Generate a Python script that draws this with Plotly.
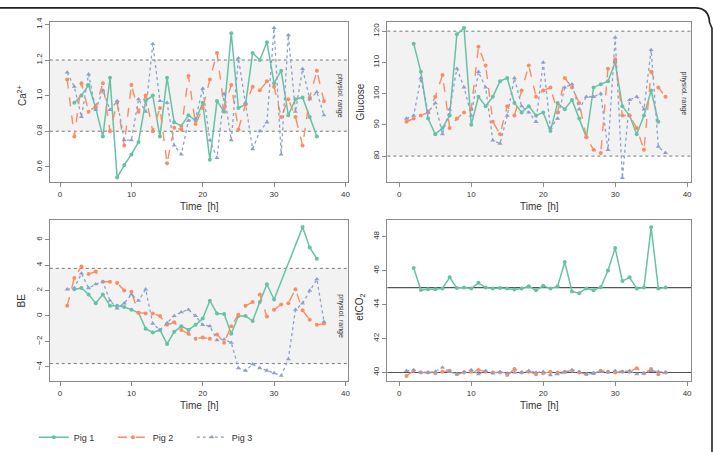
import plotly.graph_objects as go

# ---------------- data ----------------
t_all = list(range(1, 38))
t_ca_pig1 = list(range(2, 37))
t_glu_pig1 = list(range(2, 37))
t_be_pig1 = list(range(2, 31)) + [34, 35, 36]
t_co2_pig1 = list(range(2, 38))

ca_pig1 = [0.96, 1.0, 1.06, 0.93, 0.77, 1.1, 0.54, 0.61, 0.67, 0.74,
           0.97, 1.0, 0.77, 1.1, 0.85, 0.83, 0.89, 0.86, 0.96, 0.64,
           0.97, 0.91, 1.35, 0.93, 0.95, 1.24, 1.2, 1.3, 1.07, 1.14,
           0.89, 0.98, 0.99, 0.88, 0.77]
ca_pig2 = [1.09, 0.77, 1.07, 0.91, 0.94, 1.07, 0.8, 0.96, 0.72, 1.06,
           0.91, 1.0, 0.8, 0.93, 0.62, 0.82, 0.81, 1.11, 0.84, 0.93,
           1.09, 1.24, 0.93, 1.06, 0.81, 0.95, 1.05, 1.03, 1.08, 1.05,
           0.88, 0.98, 0.88, 0.72, 0.99, 1.14, 0.97]
ca_pig3 = [1.13, 1.05, 0.88, 1.12, 0.92, 1.03, 0.92, 0.97, 0.75, 0.75,
           0.98, 0.91, 1.29, 0.97, 0.96, 0.72, 0.67, 0.86, 0.87, 1.04,
           0.75, 0.65, 1.01, 0.75, 1.21, 0.96, 0.7, 0.8, 0.85, 1.38,
           0.67, 1.34, 0.91, 1.15, 0.98, 1.02, 0.89]

glu_pig1 = [116, 107, 92, 87, 89, 93, 119, 121, 90, 99,
            96, 99, 104, 105, 97, 94, 96, 93, 94, 88,
            97, 95, 98, 92, 86, 102, 103, 104, 110, 96,
            93, 87, 93, 101, 91]
glu_pig2 = [91, 92, 93, 94, 99, 106, 89, 92, 94, 95,
            115, 109, 91, 87, 96, 93, 101, 109, 99, 101,
            102, 94, 105, 102, 97, 86, 82, 81, 108, 111,
            93, 93, 89, 82, 107, 102, 99]
glu_pig3 = [92, 93, 105, 94, 97, 87, 95, 108, 102, 93,
            107, 102, 85, 84, 93, 105, 96, 94, 91, 110,
            89, 92, 102, 103, 95, 99, 99, 100, 82, 118,
            73, 98, 99, 95, 114, 83, 81]

be_pig1 = [2.1, 2.2, 1.7, 1.0, 1.7, 0.8, 0.8, 0.7, 0.5, 0.25,
           -1.0, -1.3, -1.1, -2.2, -1.25, -0.8, -1.1, -0.7, -0.2, 1.2,
           0.2, 0.15, -1.4, 0.0, 0.0, -0.4, 1.1, 2.5, 1.3,
           7.0, 5.4, 4.5]
be_pig2 = [0.8, 3.0, 3.9, 3.3, 3.5, 2.7, 2.7, 2.6, 2.0, 1.9,
           0.25, 0.2, 0.2, 0.0, -0.7, -0.5, -1.1, -1.4, -1.8, -1.7,
           -1.8, -1.45, -2.1, -0.8, 0.1, 0.8, 1.1, 1.7, -0.05, 0.5,
           0.9, 1.0, 2.1, 0.45, -0.3, -0.7, -0.6]
be_pig3 = [2.1, 2.2, 3.35, 2.2, 2.5, 2.7, 1.2, 0.6, 1.0, 1.7,
           1.2, 2.1, -0.6, -1.1, -0.55, 0.0, 0.3, 0.5, 0.0, -0.7,
           -0.8, -1.9, -1.85, -2.1, -4.1, -4.3, -3.8, -4.1, -4.3, -4.5,
           -4.7, -3.4, 0.5, 1.0, 2.0, 2.9, -0.45]

co2_pig1 = [46.15, 44.85, 44.9, 44.9, 44.95, 45.6, 44.98, 45.0, 44.94, 45.28,
            45.0, 44.95, 44.98, 44.94, 44.88, 44.95, 45.07, 44.84, 45.1, 44.94,
            45.07, 46.5, 44.77, 44.67, 44.95, 44.84, 45.02, 46.0, 47.33, 45.38,
            45.6, 44.94, 45.0, 48.55, 44.95, 45.0]
co2_pig2 = [39.8, 40.1, 40.0, 40.0, 39.95, 40.05, 40.1, 39.9, 40.0, 40.05,
            40.15, 40.05, 40.0, 40.0, 39.85, 40.2, 40.0, 40.05, 39.9, 39.95,
            40.05, 40.0, 40.05, 40.1, 40.0, 39.9, 39.95, 40.1, 40.05, 40.0,
            40.05, 40.05, 40.25, 39.95, 40.2, 39.9, 40.0]
co2_pig3 = [40.1, 40.15, 40.0, 40.0, 40.05, 40.3, 40.05, 39.9, 40.05, 40.15,
            39.9, 40.1, 39.95, 40.05, 39.95, 40.0, 40.0, 40.1, 40.0, 40.05,
            39.85, 39.9, 40.0, 40.15, 40.05, 39.9, 39.95, 40.05, 40.0, 40.1,
            40.05, 40.1, 39.9, 39.95, 40.1, 40.05, 40.0]

pig_names = ["Pig 1", "Pig 2", "Pig 3"]
x_ticks = [0, 10, 20, 30, 40]
ca_ticks = [0.6, 0.8, 1.0, 1.2, 1.4]
ca_ticklabels = ["0.6", "0.8", "1.0", "1.2", "1.4"]
glu_ticks = [80, 90, 100, 110, 120]
be_ticks = [-4, -2, 0, 2, 4, 6]
co2_ticks = [40, 42, 44, 46, 48]

ca_band = [0.8, 1.2]
glu_band = [80, 120]
be_band = [-3.75, 3.75]
co2_lines = [40, 45]

# ---------------- styling ----------------
W, H = 713, 452
FONT = "Liberation Sans, Arial, sans-serif"
COLORS = ["#66c2a5", "#fc8d62", "#8da0cb"]
DASHES = ["solid", "dash", "dot"]
SYMBOLS = ["circle", "circle", "triangle-up"]
WIDTHS = [1.5, 1.4, 1.3]
MSIZES = [4, 4, 4.5]
AXC = "#8a8a8a"
TXT = "#333333"


def px_x(p):
    return p / W


def px_y(p):
    return 1 - p / H


fig = go.Figure()

panels = [
    ("x", "y", [(t_ca_pig1, ca_pig1), (t_all, ca_pig2), (t_all, ca_pig3)]),
    ("x2", "y2", [(t_glu_pig1, glu_pig1), (t_all, glu_pig2), (t_all, glu_pig3)]),
    ("x3", "y3", [(t_be_pig1, be_pig1), (t_all, be_pig2), (t_all, be_pig3)]),
    ("x4", "y4", [(t_co2_pig1, co2_pig1), (t_all, co2_pig2), (t_all, co2_pig3)]),
]

for pi, (xa, ya, series) in enumerate(panels):
    for k, (tx, vals) in enumerate(series):
        fig.add_trace(go.Scatter(
            x=tx, y=vals, xaxis=xa, yaxis=ya,
            mode="lines+markers", name=pig_names[k],
            legendgroup=pig_names[k], showlegend=(pi == 0),
            line=dict(color=COLORS[k], width=WIDTHS[k], dash=DASHES[k]),
            marker=dict(color=COLORS[k], size=MSIZES[k], symbol=SYMBOLS[k]),
        ))

shapes = []
annotations = []


def add_band(xa, ya, band):
    xr = xa + " domain"
    shapes.append(dict(type="rect", xref=xr, yref=ya, x0=0, x1=1,
                       y0=band[0], y1=band[1], fillcolor="#f2f2f2",
                       line=dict(width=0), layer="below"))
    for b in band:
        shapes.append(dict(type="line", xref=xr, yref=ya, x0=0, x1=1,
                           y0=b, y1=b, line=dict(color="#777777", width=1, dash="dot"),
                           layer="below"))
    annotations.append(dict(xref=xr, yref=ya, x=0.977, y=(band[0] + band[1]) / 2,
                            xanchor="center", yanchor="middle",
                            text="physiol. range", textangle=90, showarrow=False,
                            font=dict(size=7, color=TXT, family=FONT)))


add_band("x", "y", ca_band)
add_band("x2", "y2", glu_band)
add_band("x3", "y3", be_band)
for v in co2_lines:
    shapes.append(dict(type="line", xref="x4 domain", yref="y4", x0=0, x1=1,
                       y0=v, y1=v, line=dict(color="#555555", width=1.2), layer="below"))

# outer rounded frame (top edge with rounded top-right corner)
shapes.append(dict(type="path", xref="paper", yref="paper",
                   path=(f"M 0,{px_y(3)} L {px_x(698)},{px_y(3)} "
                         f"Q {px_x(712)},{px_y(3)} {px_x(712.5)},{px_y(18)} "
                         f"L {px_x(715)},{px_y(24)} L {px_x(715)},{px_y(470)}"),
                   line=dict(color="#222222", width=1.6)))


def ytitle(text, x, y):
    annotations.append(dict(xref="paper", yref="paper", x=px_x(x), y=px_y(y),
                            xanchor="center", yanchor="middle",
                            text=text, textangle=-90, showarrow=False,
                            font=dict(size=10, color=TXT, family=FONT)))


def xtitle(x, y):
    annotations.append(dict(xref="paper", yref="paper", x=px_x(x), y=px_y(y),
                            xanchor="center", yanchor="middle",
                            text="Time  [h]", showarrow=False,
                            font=dict(size=10, color=TXT, family=FONT)))


ytitle("Ca<sup>2+</sup>", 22, 93)
ytitle("Glucose", 362, 100)
ytitle("BE", 22, 305)
ytitle("etCO<sub>2</sub>", 362, 312)
xtitle(200, 208)
xtitle(542, 208)
xtitle(200, 413)
xtitle(542, 413)

common_x = dict(showline=True, mirror=True, linecolor=AXC, linewidth=1,
                ticks="outside", ticklen=4, tickcolor=AXC, tickvals=x_ticks,
                showgrid=False, zeroline=False,
                tickfont=dict(size=8, color=TXT, family=FONT))
common_y = dict(showline=True, mirror=True, linecolor=AXC, linewidth=1,
                ticks="outside", ticklen=4, tickcolor=AXC, tickangle=-90,
                showgrid=False, zeroline=False,
                tickfont=dict(size=8, color=TXT, family=FONT))

dl = [px_x(50), px_x(349)]
dr = [px_x(389), px_x(694)]
dt = [px_y(183), px_y(18)]
db = [px_y(388), px_y(222)]

fig.update_layout(
    width=W, height=H,
    margin=dict(l=0, r=0, t=0, b=0, pad=0),
    paper_bgcolor="white", plot_bgcolor="white",
    font=dict(family=FONT, color=TXT),
    xaxis=dict(domain=dl, anchor="y", range=[-1.44, 40.3], **common_x),
    yaxis=dict(domain=dt, anchor="x", range=[0.513, 1.411], tickvals=ca_ticks,
               ticktext=ca_ticklabels, **common_y),
    xaxis2=dict(domain=dr, anchor="y2", range=[-1.66, 40.55], **common_x),
    yaxis2=dict(domain=dt, anchor="x2", range=[71.6, 122.8], tickvals=glu_ticks, **common_y),
    xaxis3=dict(domain=dl, anchor="y3", range=[-1.44, 40.3], **common_x),
    yaxis3=dict(domain=db, anchor="x3", range=[-5.12, 7.55], tickvals=be_ticks, **common_y),
    xaxis4=dict(domain=dr, anchor="y4", range=[-1.66, 40.55], **common_x),
    yaxis4=dict(domain=db, anchor="x4", range=[39.5, 48.97], tickvals=co2_ticks, **common_y),
    shapes=shapes,
    annotations=annotations,
    legend=dict(orientation="h", x=px_x(34), y=px_y(446), xanchor="left", yanchor="middle",
                font=dict(size=9, color=TXT, family=FONT),
                entrywidth=34, entrywidthmode="pixels",
                bgcolor="rgba(0,0,0,0)", itemwidth=30),
    showlegend=True,
)

fig.write_html("out.html")
